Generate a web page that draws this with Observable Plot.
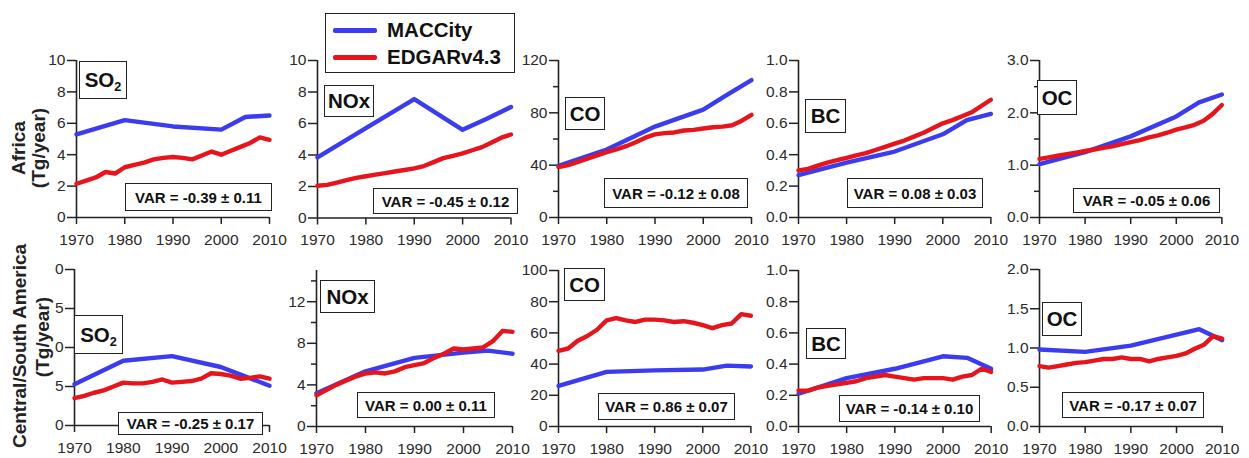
<!DOCTYPE html>
<html>
<head>
<meta charset="utf-8">
<script src="https://cdn.jsdelivr.net/npm/d3@7"></script>
<script src="https://cdn.jsdelivr.net/npm/@observablehq/plot@0.6"></script>
<style>
  html, body { margin: 0; padding: 0; background: #fff; }
  #wrap { position: relative; width: 1249px; height: 458px; overflow: hidden; background: #fff;
          font-family: "Liberation Sans", Arial, sans-serif; }
  .box { position: absolute; box-sizing: border-box; border: 1.6px solid #222; background: #fff;
         display: flex; align-items: center; justify-content: center; font-weight: bold; color: #111;
         white-space: nowrap; z-index: 5; }
  .box sub { font-size: 0.62em; vertical-align: -0.3em; line-height: 0; }
  .rot { position: absolute; transform: translate(-50%, -50%) rotate(-90deg); white-space: nowrap;
         font-weight: bold; color: #222; font-size: 19px; }
  .leg { position: absolute; box-sizing: border-box; border: 1.6px solid #222; background: #fff; z-index: 6; }
  .sw { position: absolute; height: 5px; border-radius: 2px; }
  .lt { position: absolute; font-weight: bold; font-size: 20.5px; color: #111; transform: translateY(-50%); white-space: nowrap; }
</style>
</head>
<body>
<div id="wrap"></div>
<script>
// ---------------- DATA ----------------
const regions = ["Africa", "Central/South America"];
const species = ["SO2", "NOx", "CO", "BC", "OC"];
const seriesNames = ["MACCity", "EDGARv4.3"];
const xTicks = [1970, 1980, 1990, 2000, 2010];

const macYears = [1970, 1980, 1990, 2000, 2005, 2010];
const edgarYears = [1970, 1972, 1974, 1976, 1978, 1980, 1982, 1984, 1986, 1988, 1990,
                    1992, 1994, 1996, 1998, 2000, 2002, 2004, 2006, 2008, 2010];

// Africa
const afSO2Mac = [5.3, 6.2, 5.8, 5.6, 6.4, 6.5];
const afSO2Edg = [2.15, 2.35, 2.55, 2.9, 2.8, 3.2, 3.35, 3.5, 3.7, 3.8, 3.85, 3.8, 3.7, 3.95, 4.2, 4.0, 4.25, 4.5, 4.75, 5.1, 4.95];
const afNOxMac = [3.85, 5.7, 7.55, 5.6, 6.3, 7.05];
const afNOxEdg = [2.05, 2.1, 2.25, 2.4, 2.55, 2.65, 2.75, 2.85, 2.95, 3.05, 3.15, 3.3, 3.55, 3.8, 3.95, 4.1, 4.3, 4.5, 4.8, 5.1, 5.3];
const afCOMac = [39.5, 52, 69.5, 82.5, 94, 105];
const afCOEdg = [38.5, 40, 42.5, 45, 47.5, 50, 52, 54.5, 57.5, 61, 63.5, 64.5, 65, 66.5, 67, 68, 69, 69.5, 70.5, 74, 78.5];
const afBCMac = [0.27, 0.35, 0.42, 0.53, 0.62, 0.66];
const afBCEdg = [0.30, 0.31, 0.33, 0.35, 0.365, 0.38, 0.395, 0.41, 0.43, 0.45, 0.47, 0.49, 0.515, 0.54, 0.57, 0.60, 0.62, 0.645, 0.67, 0.71, 0.75];
const afOCMac = [1.02, 1.25, 1.55, 1.93, 2.2, 2.35];
const afOCEdg = [1.12, 1.15, 1.18, 1.21, 1.24, 1.27, 1.30, 1.33, 1.36, 1.40, 1.44, 1.48, 1.53, 1.57, 1.62, 1.68, 1.72, 1.77, 1.85, 1.98, 2.15];

// Central/South America
const saSO2Mac = [5.3, 8.3, 8.9, 7.5, 6.3, 5.1];
const saSO2Edg = [3.5, 3.8, 4.2, 4.5, 5.0, 5.5, 5.4, 5.4, 5.6, 5.9, 5.5, 5.6, 5.7, 6.0, 6.7, 6.6, 6.4, 6.0, 6.1, 6.3, 6.0];
const saNOxMac = [3.2, 5.3, 6.6, 7.1, 7.3, 7.0];
const saNOxEdg = [3.0, 3.5, 4.0, 4.4, 4.8, 5.1, 5.2, 5.1, 5.3, 5.7, 5.9, 6.1, 6.6, 7.0, 7.5, 7.4, 7.5, 7.6, 8.2, 9.2, 9.1];
const saCOMac = [26, 35, 36, 36.5, 39, 38.5];
const saCOEdg = [48.5, 50, 55, 58, 62, 68, 69.5, 68, 67, 68.5, 68.5, 68, 67, 67.5, 66.5, 65, 63, 65, 66, 72, 71];
const saBCMac = [0.21, 0.31, 0.37, 0.45, 0.44, 0.37];
const saBCEdg = [0.23, 0.23, 0.25, 0.26, 0.27, 0.28, 0.29, 0.31, 0.32, 0.33, 0.32, 0.31, 0.30, 0.31, 0.31, 0.31, 0.30, 0.32, 0.33, 0.37, 0.35];
const saOCMac = [0.98, 0.95, 1.03, 1.17, 1.24, 1.10];
const saOCEdg = [0.77, 0.75, 0.77, 0.79, 0.81, 0.82, 0.84, 0.86, 0.86, 0.88, 0.86, 0.86, 0.83, 0.86, 0.88, 0.90, 0.93, 0.99, 1.04, 1.15, 1.12];

const varTexts = [
  "VAR = -0.39 ± 0.11", "VAR = -0.45 ± 0.12", "VAR = -0.12 ± 0.08", "VAR = 0.08 ± 0.03", "VAR = -0.05 ± 0.06",
  "VAR = -0.25 ± 0.17", "VAR = 0.00 ± 0.11", "VAR = 0.86 ± 0.07", "VAR = -0.14 ± 0.10", "VAR = -0.17 ± 0.07"
];

// y-axis definitions: [max, labeled ticks, minor ticks]
const yMax = [10, 10, 120, 1, 3, 20, 15, 100, 1, 2];
const yMajor = [
  [0, 2, 4, 6, 8, 10], [0, 2, 4, 6, 8, 10], [0, 40, 80, 120], [0, 0.2, 0.4, 0.6, 0.8, 1], [0, 1, 2, 3],
  [0, 5, 10, 15, 20], [0, 4, 8, 12], [0, 20, 40, 60, 80, 100], [0, 0.2, 0.4, 0.6, 0.8, 1], [0, 0.5, 1, 1.5, 2]
];
const yMinor = [[], [], [20, 60, 100], [], [0.5, 1.5, 2.5], [], [2, 6, 10, 14], [], [], []];
// the first SO2 panel of the second row shows clipped labels (only the last digit)
const yFmt = [
  d => String(d), d => String(d), d => String(d), d => d.toFixed(1), d => d.toFixed(1),
  d => String(d % 10), d => String(d), d => String(d), d => d.toFixed(1), d => d.toFixed(1)
];

const macSeries = [afSO2Mac, afNOxMac, afCOMac, afBCMac, afOCMac, saSO2Mac, saNOxMac, saCOMac, saBCMac, saOCMac];
const edgSeries = [afSO2Edg, afNOxEdg, afCOEdg, afBCEdg, afOCEdg, saSO2Edg, saNOxEdg, saCOEdg, saBCEdg, saOCEdg];

// ---------------- LAYOUT (pixels) ----------------
const frames = [
  [76, 60, 193, 157], [316.7, 59.5, 193.5, 157.5], [557.7, 60, 193, 157], [798.3, 60, 192.4, 157], [1039.3, 60, 182.4, 157],
  [74, 269.3, 195, 156], [315.7, 270, 196, 156], [558.3, 270, 192.4, 156], [798, 270, 192.7, 156], [1039, 269.3, 182.7, 157]
];
const specBoxes = [
  [79, 61, 48, 38], [324, 85, 50, 32], [565, 97, 40, 33], [805, 99, 41, 34], [1037, 80, 40, 35],
  [74, 315, 49, 39], [320, 280, 55, 33], [564, 268, 41, 33], [806, 328, 40, 31], [1042, 302, 40, 34]
];
const varBoxes = [
  [125, 183, 147, 28], [373, 188, 145, 26], [604, 178, 144, 30], [847, 178, 136, 30], [1073, 188, 147, 25],
  [118, 412, 145, 23], [357, 392, 138, 26], [598, 393, 137, 27], [839, 395, 141, 27], [1062, 392, 142, 26]
];

const BLUE = "#3b3bf0";
const RED = "#e8141c";

const wrap = document.getElementById("wrap");
const mL = 50, mR = 16, mT = 12, mB = 34;

for (let i = 0; i < 10; i++) {
  const [fx, fy, fw, fh] = frames[i];
  const mac = macYears.map((yr, k) => ({year: yr, v: macSeries[i][k], s: seriesNames[0]}));
  const edg = edgarYears.map((yr, k) => ({year: yr, v: edgSeries[i][k], s: seriesNames[1]}));
  const p = Plot.plot({
    width: mL + fw + mR,
    height: mT + fh + mB,
    marginLeft: mL, marginRight: mR, marginTop: mT, marginBottom: mB,
    x: {domain: [1970, 2010], label: null},
    y: {domain: [0, yMax[i]], label: null},
    style: {fontFamily: "'Liberation Sans', Arial, sans-serif", fontSize: "15px", color: "#2a2a2a", background: "transparent", overflow: "visible"},
    marks: [
      Plot.axisX({ticks: xTicks, tickFormat: d => String(d), tickSize: 7, tickPadding: 9, fontSize: 15.5, stroke: "#222", strokeWidth: 1.5, label: null}),
      Plot.axisY({ticks: yMajor[i], tickFormat: yFmt[i], tickSize: 9, tickPadding: 2, fontSize: 15.5, stroke: "#222", strokeWidth: 1.5, label: null}),
      Plot.axisY({ticks: yMinor[i], tickFormat: () => "", tickSize: 5, stroke: "#222", strokeWidth: 1.5, label: null}),
      Plot.ruleX([1970], {y1: 0, y2: yMax[i], stroke: "#222", strokeWidth: 1.6}),
      Plot.ruleY([0], {x1: 1970, x2: 2010, stroke: "#222", strokeWidth: 1.6}),
      Plot.line(mac, {x: "year", y: "v", stroke: BLUE, strokeWidth: 4.4}),
      Plot.line(edg, {x: "year", y: "v", stroke: RED, strokeWidth: 4.4})
    ]
  });
  p.style.position = "absolute";
  p.style.left = (fx - mL) + "px";
  p.style.top = (fy - mT) + "px";
  wrap.appendChild(p);

  // species label box
  const sb = specBoxes[i];
  const sdiv = document.createElement("div");
  sdiv.className = "box";
  Object.assign(sdiv.style, {left: sb[0] + "px", top: sb[1] + "px", width: sb[2] + "px", height: sb[3] + "px", fontSize: "20.5px"});
  const sp = species[i % 5];
  const inner = document.createElement("span");
  if (sp === "SO2") inner.innerHTML = "SO<sub>2</sub>"; else inner.textContent = sp;
  sdiv.appendChild(inner);
  wrap.appendChild(sdiv);

  // VAR box
  const vb = varBoxes[i];
  const vdiv = document.createElement("div");
  vdiv.className = "box";
  Object.assign(vdiv.style, {left: vb[0] + "px", top: vb[1] + "px", width: vb[2] + "px", height: vb[3] + "px", fontSize: "15px"});
  vdiv.textContent = varTexts[i];
  wrap.appendChild(vdiv);
}

// row titles
function rot(text, cx, cy) {
  const d = document.createElement("div");
  d.className = "rot";
  d.style.left = cx + "px";
  d.style.top = cy + "px";
  d.textContent = text;
  wrap.appendChild(d);
}
rot(regions[0], 19, 148);
rot("(Tg/year)", 39, 148);
rot(regions[1], 20, 346);
rot("(Tg/year)", 43, 337);

// legend
const leg = document.createElement("div");
leg.className = "leg";
Object.assign(leg.style, {left: "325px", top: "13px", width: "190px", height: "60px"});
wrap.appendChild(leg);
[[BLUE, 30, seriesNames[0]], [RED, 57, seriesNames[1]]].forEach(([c, y, t]) => {
  const s = document.createElement("div");
  s.className = "sw";
  Object.assign(s.style, {left: "333px", top: (y - 2.5) + "px", width: "44px", background: c, zIndex: 7});
  wrap.appendChild(s);
  const l = document.createElement("div");
  l.className = "lt";
  Object.assign(l.style, {left: "387px", top: y + "px", zIndex: 7});
  l.textContent = t;
  wrap.appendChild(l);
});
</script>
</body>
</html>
